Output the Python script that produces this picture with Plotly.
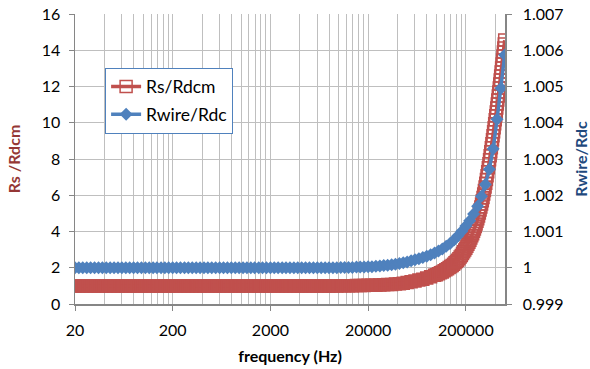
import math
import plotly.graph_objects as go

# ---------------- data ----------------
FREQ_WIRE = [
    20, 21.9, 24, 26.4, 28.9, 31.7, 34.8, 38.1, 41.8, 45.8, 50.2, 55.1, 60.4, 66.2, 72.6, 79.6, 87.3, 95.7,
    105, 115, 126, 138, 152, 166, 182,
    200, 219, 240, 264, 289, 317, 348, 381, 418, 458, 502, 551, 604, 662, 726, 796, 873, 957,
    1050, 1150, 1260, 1380, 1520, 1660, 1820,
    2000, 2190, 2400, 2640, 2890, 3170, 3480, 3810, 4180, 4580, 5020, 5510, 6040, 6620, 7260, 7960, 8730, 9570,
    10500, 11500, 12600, 13800, 15200, 16600, 18200,
    20000, 21900, 24000, 26400, 28900, 31700, 34800, 38100, 41800, 45800, 50200, 55100, 60400, 66200, 72600,
    79600, 87300, 95700, 105000, 115000, 126000, 138000, 152000, 166000, 182000,
    200000, 219000, 240000, 264000, 289000, 317000, 348000, 381000, 418000, 458000, 500000,
]

RWIRE_RDC = [
    1.0, 1.0, 1.0, 1.0, 1.0, 1.0, 1.0, 1.0, 1.0, 1.0, 1.0, 1.0, 1.0, 1.0, 1.0, 1.0, 1.0, 1.0,
    1.0, 1.0, 1.0, 1.0, 1.0, 1.0, 1.0,
    1.0, 1.0, 1.0, 1.0, 1.0, 1.0, 1.0, 1.0, 1.0, 1.0, 1.0, 1.0, 1.0, 1.0, 1.0, 1.0, 1.0, 1.0,
    1.0, 1.0, 1.0, 1.0, 1.0, 1.0, 1.0,
    1.0, 1.0, 1.0, 1.0, 1.0, 1.0, 1.0, 1.0, 1.0, 1.0, 1.0, 1.0, 1.0, 1.0, 1.0, 1.0, 1.0, 1.0,
    1.00001, 1.00001, 1.00001, 1.00001, 1.00002, 1.00002, 1.00002,
    1.00003, 1.00003, 1.00004, 1.00005, 1.00006, 1.00007, 1.00008, 1.0001, 1.00012, 1.00014, 1.00016,
    1.00019, 1.00022, 1.00025, 1.00028, 1.00032, 1.00036, 1.00041, 1.00046, 1.00052, 1.00059, 1.00067,
    1.00077, 1.00088, 1.00101,
    1.00115, 1.0013, 1.00148, 1.0017, 1.00197, 1.0023, 1.00272, 1.00328, 1.0041, 1.00495, 1.00587,
]

FREQ_S = [
    20, 21.9, 24, 26.4, 28.9, 31.7, 34.8, 38.1, 41.8, 45.8, 50.2, 55.1, 60.4, 66.2, 72.6, 79.6, 87.3, 95.7,
    105, 115, 126, 138, 152, 166, 182,
    200, 219, 240, 264, 289, 317, 348, 381, 418, 458, 502, 551, 604, 662, 726, 796, 873, 957,
    1050, 1150, 1260, 1380, 1520, 1660, 1820,
    2000, 2190, 2400, 2640, 2890, 3170, 3480, 3810, 4180, 4580, 5020, 5510, 6040, 6620, 7260, 7960, 8730, 9570,
    10500, 11500, 12600, 13800, 15200, 16600, 18200,
    20000, 21900, 24000, 26400, 28900, 31700, 34800, 38100, 41800, 45800, 50200, 55100, 60400, 66200, 72600,
    79600, 87300, 95700,
    100000, 105000, 110000, 115000, 120000, 125000, 130000, 135000, 140000, 145000,
    150000, 155000, 160000, 165000, 170000, 175000, 180000, 185000, 190000, 195000,
    200000, 205000, 210000, 215000, 220000, 225000, 230000, 235000, 240000, 245000,
    250000, 255000, 260000, 265000, 270000, 275000, 280000, 285000, 290000, 295000,
    300000, 305000, 310000, 315000, 320000, 325000, 330000, 335000, 340000, 345000,
    350000, 355000, 360000, 365000, 370000, 375000, 380000, 385000, 390000, 395000,
    400000, 405000, 410000, 415000, 420000, 425000, 430000, 435000, 440000, 445000,
    450000, 455000, 460000, 465000, 470000, 475000, 480000, 485000, 490000, 495000,
    500000,
]

RS_RDCM = [
    1.0, 1.0, 1.0, 1.0, 1.0, 1.0, 1.0, 1.0, 1.0, 1.0, 1.0, 1.0, 1.0, 1.0, 1.0, 1.0, 1.0, 1.0,
    1.0, 1.0, 1.0, 1.0, 1.0, 1.0, 1.0,
    1.0, 1.0, 1.0, 1.0, 1.0, 1.0, 1.0, 1.0, 1.0, 1.0, 1.0, 1.0, 1.0, 1.0, 1.0, 1.0, 1.0, 1.0,
    1.0, 1.0, 1.0, 1.0, 1.0, 1.0, 1.0,
    1.0, 1.0, 1.0, 1.0, 1.0, 1.0, 1.0, 1.0, 1.0, 1.0, 1.0, 1.0, 1.0, 1.0, 1.0, 1.0, 1.0, 1.0,
    1.01, 1.01, 1.01, 1.01, 1.02, 1.02, 1.02,
    1.03, 1.03, 1.04, 1.05, 1.06, 1.07, 1.08, 1.1, 1.12, 1.14, 1.19, 1.23, 1.27, 1.32, 1.37,
    1.43, 1.5, 1.58,
    1.62, 1.67, 1.72, 1.77, 1.83, 1.89, 1.95, 2.01, 2.07, 2.13,
    2.2, 2.27, 2.34, 2.42, 2.5, 2.59, 2.68, 2.78, 2.88, 2.98,
    3.08, 3.19, 3.3, 3.41, 3.52, 3.64, 3.76, 3.88, 4.01, 4.14,
    4.28, 4.42, 4.56, 4.71, 4.86, 5.02, 5.18, 5.35, 5.52, 5.7,
    5.88, 6.07, 6.26, 6.46, 6.66, 6.87, 7.08, 7.3, 7.52, 7.74,
    7.96, 8.18, 8.4, 8.62, 8.84, 9.06, 9.28, 9.5, 9.72, 9.94,
    10.16, 10.38, 10.6, 10.82, 11.04, 11.26, 11.48, 11.7, 11.92, 12.14,
    12.36, 12.58, 12.8, 13.02, 13.24, 13.46, 13.68, 13.9, 14.12, 14.34,
    14.56,
]

X_TICKS = [20, 200, 2000, 20000, 200000]
Y1_TICKS = [0, 2, 4, 6, 8, 10, 12, 14, 16]
Y2_TICKS = [0.999, 1.0, 1.001, 1.002, 1.003, 1.004, 1.005, 1.006, 1.007]
Y2_LABELS = ["0.999", "1", "1.001", "1.002", "1.003", "1.004", "1.005", "1.006", "1.007"]

# ---------------- styling ----------------
RED = "#C0504D"
BLUE = "#4F81BD"
GRID = "#BFBFBF"
AXIS = "#868686"
FONT = "Lato"

# minor vertical gridlines at 20*k*10^n (Excel style log grid starting at 20)
minor_vals = [20 * k * 10 ** n for n in range(5) for k in range(2, 10) if 20 * k * 10 ** n < 503600]

# the densely sampled flat part of the red series reads as a solid band
flat_x = [f for f in FREQ_S if f < 150000]
flat_y = RS_RDCM[:len(flat_x)]

fig = go.Figure()
fig.add_trace(go.Scatter(
    x=flat_x, y=flat_y, mode="markers",
    marker=dict(symbol="square", size=12, color=RED, line=dict(width=0)),
    showlegend=False, hoverinfo="skip",
))
fig.add_trace(go.Scatter(
    x=FREQ_S, y=RS_RDCM, mode="lines+markers", name="Rs/Rdcm",
    line=dict(color=RED, width=3.5),
    marker=dict(symbol="square-open", size=12, color=RED, line=dict(color=RED, width=1.5)),
    legendgroup="a",
))
fig.add_trace(go.Scatter(
    x=FREQ_WIRE, y=RWIRE_RDC, mode="lines+markers", name="Rwire/Rdc", yaxis="y2",
    line=dict(color=BLUE, width=3.5),
    marker=dict(symbol="diamond", size=10, color=BLUE),
    legendgroup="b",
))

tickfont = dict(family=FONT, size=16, color="#000000")

fig.update_layout(
    width=590, height=369,
    margin=dict(l=75, r=85, t=14, b=65),
    paper_bgcolor="white", plot_bgcolor="white",
    font=dict(family=FONT, size=16, color="#000000"),
    hovermode=False,
    xaxis=dict(
        type="log", range=[math.log10(20), math.log10(503600)], automargin=False,
        tickmode="array", tickvals=X_TICKS, ticktext=[str(v) for v in X_TICKS],
        tickfont=tickfont, ticks="outside", ticklen=5, tickcolor=AXIS, tickwidth=1,
        ticklabelstandoff=6, ticklabeloverflow="allow",
        showline=True, linecolor=AXIS, linewidth=1.5,
        showgrid=True, gridcolor=GRID, gridwidth=1,
        minor=dict(tickmode="array", tickvals=minor_vals, showgrid=True, gridcolor=GRID, gridwidth=1, ticks=""),
        title=dict(text="frequency (Hz)", font=dict(family=FONT, size=16, color="#000000", weight="bold"), standoff=13),
        zeroline=False,
    ),
    yaxis=dict(
        range=[0, 16], tickmode="array", tickvals=Y1_TICKS, automargin=False,
        tickfont=tickfont, ticks="outside", ticklen=5, tickcolor=AXIS,
        ticklabelstandoff=5, ticklabeloverflow="allow",
        showline=True, linecolor=AXIS, linewidth=1.5,
        showgrid=True, gridcolor=GRID, gridwidth=1, zeroline=False,
        title=dict(text="Rs /Rdcm", font=dict(family=FONT, size=16, color="#953735", weight="bold"), standoff=17),
    ),
    yaxis2=dict(
        range=[0.999, 1.007], overlaying="y", side="right", automargin=False,
        tickmode="array", tickvals=Y2_TICKS, ticktext=Y2_LABELS,
        tickfont=tickfont, ticks="outside", ticklen=5, tickcolor=AXIS,
        ticklabelstandoff=8, ticklabeloverflow="allow",
        showline=True, linecolor=AXIS, linewidth=1.5,
        showgrid=False, zeroline=False,
        title=dict(text="Rwire/Rdc", font=dict(family=FONT, size=16, color="#1F497D", weight="bold"), standoff=14),
    ),
    legend=dict(
        x=0.07, y=0.815, xanchor="left", yanchor="top",
        bgcolor="white", bordercolor=BLUE, borderwidth=1,
        font=dict(family=FONT, size=17.5, color="#000000"),
        tracegroupgap=2,
    ),
)

# remove the browser's default 8px body margin so the figure sits at the window origin
fig.write_html(
    "out.html",
    config={"displayModeBar": False, "staticPlot": True},
    post_script="document.body.style.margin='0px';",
)
